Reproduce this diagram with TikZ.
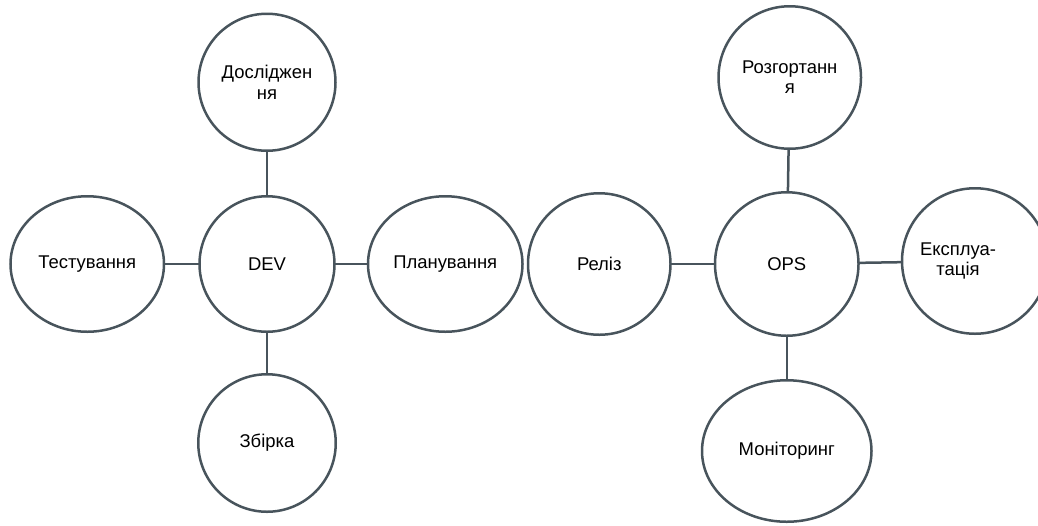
\documentclass[tikz,border=0pt]{standalone}
\usepackage{fontspec}
\setmainfont{Liberation Sans}
\usetikzlibrary{shapes.geometric}
\usetikzlibrary{positioning}
\definecolor{rimgray}{RGB}{72,84,92}

\begin{document}
\begin{tikzpicture}[node distance=8 mm,
    phase/.style={ellipse, draw=rimgray, line width=0.05cm, outer sep=0pt, inner sep=0pt,
        align=center, font=\fontsize{10.5pt}{11.5pt}\selectfont,
        minimum width=2.7cm, minimum height=2.71cm},
    link/.style={draw=rimgray, line width=0.05cm}]
    \useasboundingbox (0,0) rectangle (20.76,-10.5);
    \clip (0,0) rectangle (20.76,-10.5);
    % DEV side
    \node [phase] (dev) at (5.34,-5.28) {DEV};
    \node [phase,minimum width=3.07cm] (test) [left=0.71cm of dev] {Тестування};
    \node [phase,minimum width=3.09cm] (plan) [right=0.67cm of dev] {Планування};
    \node [phase,minimum width=2.74cm,minimum height=2.74cm] (research) [above=0.91cm of dev] {Досліджен\\ня};
    \node [phase,minimum width=2.75cm,minimum height=2.75cm] (build) [below=0.85cm of dev] {Збірка};
    % OPS side
    \node [phase,minimum width=2.85cm,minimum height=2.83cm] (release) [right=0.11cm of plan] {Реліз};
    \node [phase,minimum width=2.87cm,minimum height=2.87cm] (ops) [right=0.89cm of release] {OPS};
    \node [phase,minimum width=2.85cm,minimum height=2.85cm] (deploy) [above=0.87cm of ops, xshift=0.06cm] {Розгортанн\\я};
    \node [phase,minimum width=2.92cm,minimum height=2.91cm,
        label={[xshift=-0.34cm,align=center,font=\fontsize{10.5pt}{11.5pt}\selectfont]center:{Експлуа-\\тація}}] (operate) [right=0.87cm of ops, yshift=0.06cm] {};
    \node [phase,minimum width=3.39cm,minimum height=2.83cm] (monitor) [below=0.89cm of ops] {Моніторинг};
    \path [link]
        (test) edge (dev)
        (dev) edge (plan)
        (research) edge (dev)
        (dev) edge (build)
        (release) edge (ops)
        (deploy) edge (ops)
        (ops) edge (operate)
        (ops) edge (monitor);
\end{tikzpicture}
\end{document}
